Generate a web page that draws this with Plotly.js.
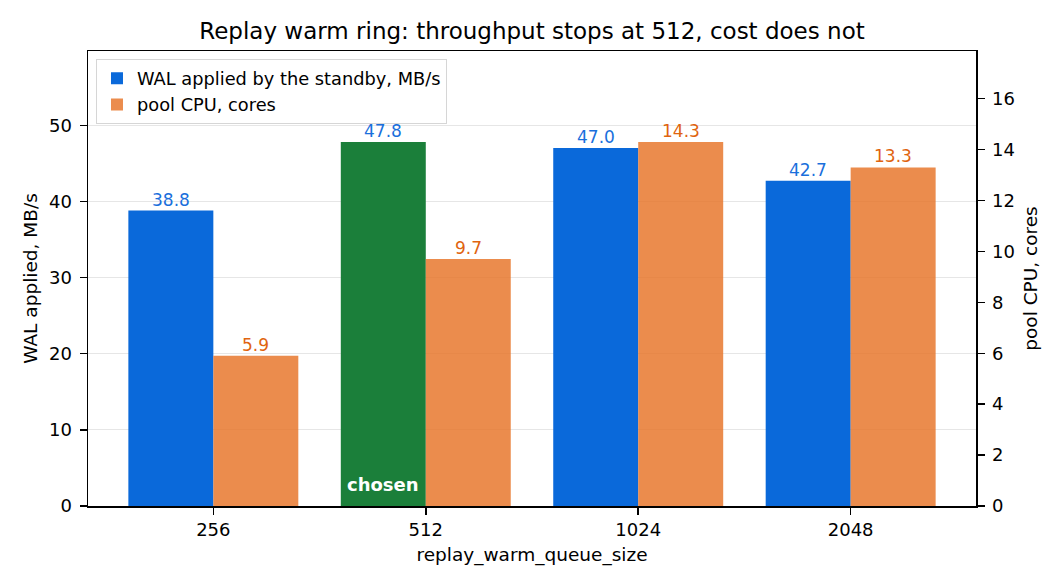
<!DOCTYPE html>
<html>
<head>
<meta charset="utf-8">
<script src="https://cdn.plot.ly/plotly-3.0.1.min.js"></script>
<style>
  html, body { margin: 0; padding: 0; background: #fff; }
  #chart { width: 1064px; height: 588px; }
</style>
</head>
<body>
<div id="chart"></div>
<script>
    // queue sizes tried, and what each one gave
    const queueSizes = ['256', '512', '1024', '2048'];
    const walApplied = [38.8, 47.8, 47.0, 42.7];   // MB/s, left axis
    const poolCpu = [5.9, 9.7, 14.3, 13.3];        // cores, right axis
    const chosenSize = '512';

    const blue = '#0a69da', green = '#1b7f3a', orange = 'rgba(230,115,38,0.82)';
    const font = 'DejaVu Sans, sans-serif';

    const idx = queueSizes.map((s, i) => i);
    const chosenIdx = queueSizes.indexOf(chosenSize);

    const walTrace = {
        type: 'bar', name: 'WAL applied by the standby, MB/s',
        x: idx, y: walApplied, yaxis: 'y',
        offset: -0.4, width: 0.4,
        marker: { color: idx.map(i => i === chosenIdx ? green : blue), line: { width: 0 } },
        hoverinfo: 'skip',
    };
    const cpuTrace = {
        type: 'bar', name: 'pool CPU, cores',
        x: idx, y: poolCpu, yaxis: 'y2',
        offset: 0, width: 0.4,
        marker: { color: orange, line: { width: 0 } },
        hoverinfo: 'skip',
    };

    const annotations = [];
    walApplied.forEach((v, i) => annotations.push({
        x: i - 0.2, y: v, xref: 'x', yref: 'y', text: v.toFixed(1),
        showarrow: false, yanchor: 'bottom', yshift: -1,
        font: { family: font, size: 17, color: '#1a6fdc' },
    }));
    poolCpu.forEach((v, i) => annotations.push({
        x: i + 0.2, y: v, xref: 'x', yref: 'y2', text: v.toFixed(1),
        showarrow: false, yanchor: 'bottom', yshift: -1,
        font: { family: font, size: 17, color: '#e0640f' },
    }));
    annotations.push({
        x: chosenIdx - 0.2, y: 0, xref: 'x', yref: 'y', text: '<b>chosen</b>',
        showarrow: false, yanchor: 'bottom', yshift: 9,
        font: { family: font, size: 18, color: '#ffffff' },
    });

    const axisCommon = {
        ticks: 'outside', ticklen: 7, tickcolor: '#000', tickwidth: 1.5,
        ticklabelstandoff: 4,
        showline: true, linecolor: '#000', linewidth: 1.5,
        zeroline: false, tickfont: { family: font, size: 18 },
    };

    const layout = {
        width: 1064, height: 588,
        paper_bgcolor: '#fff', plot_bgcolor: '#fff',
        margin: { l: 88, r: 88, t: 51, b: 82 },
        font: { family: font, size: 18, color: '#000' },
        title: {
            text: 'Replay warm ring: throughput stops at 512, cost does not',
            font: { family: font, size: 23, color: '#000' },
            x: 0.5, xanchor: 'center', y: 1 - 31 / 588, yref: 'container', yanchor: 'middle',
        },
        showlegend: true,
        legend: {
            x: 0.009, y: 0.982, xanchor: 'left', yanchor: 'top',
            bgcolor: 'rgba(255,255,255,0.8)', bordercolor: '#d6d6d6', borderwidth: 1,
            font: { family: font, size: 17.8 },
        },
        barmode: 'overlay',
        xaxis: Object.assign({}, axisCommon, {
            range: [-0.59, 3.59],
            tickvals: idx, ticktext: queueSizes,
            ticklabelstandoff: 0,
            mirror: true, showgrid: false,
            title: { text: 'replay_warm_queue_size', font: { family: font, size: 18.5 }, standoff: 9 },
        }),
        yaxis: Object.assign({}, axisCommon, {
            range: [0, Math.max(...walApplied) * 1.25],
            dtick: 10, tick0: 0,
            showgrid: true, gridcolor: '#e6e6e6', gridwidth: 1.2,
            title: { text: 'WAL applied, MB/s', font: { family: font, size: 18.5 }, standoff: 6 },
        }),
        yaxis2: Object.assign({}, axisCommon, {
            overlaying: 'y', side: 'right',
            range: [0, Math.max(...poolCpu) * 1.25],
            dtick: 2, tick0: 0,
            showgrid: false,
            title: { text: 'pool CPU, cores', font: { family: font, size: 18.5 }, standoff: 10 },
        }),
        annotations: annotations,
    };

    Plotly.newPlot('chart', [walTrace, cpuTrace], layout, { displayModeBar: false, staticPlot: true });
</script>
</body>
</html>
